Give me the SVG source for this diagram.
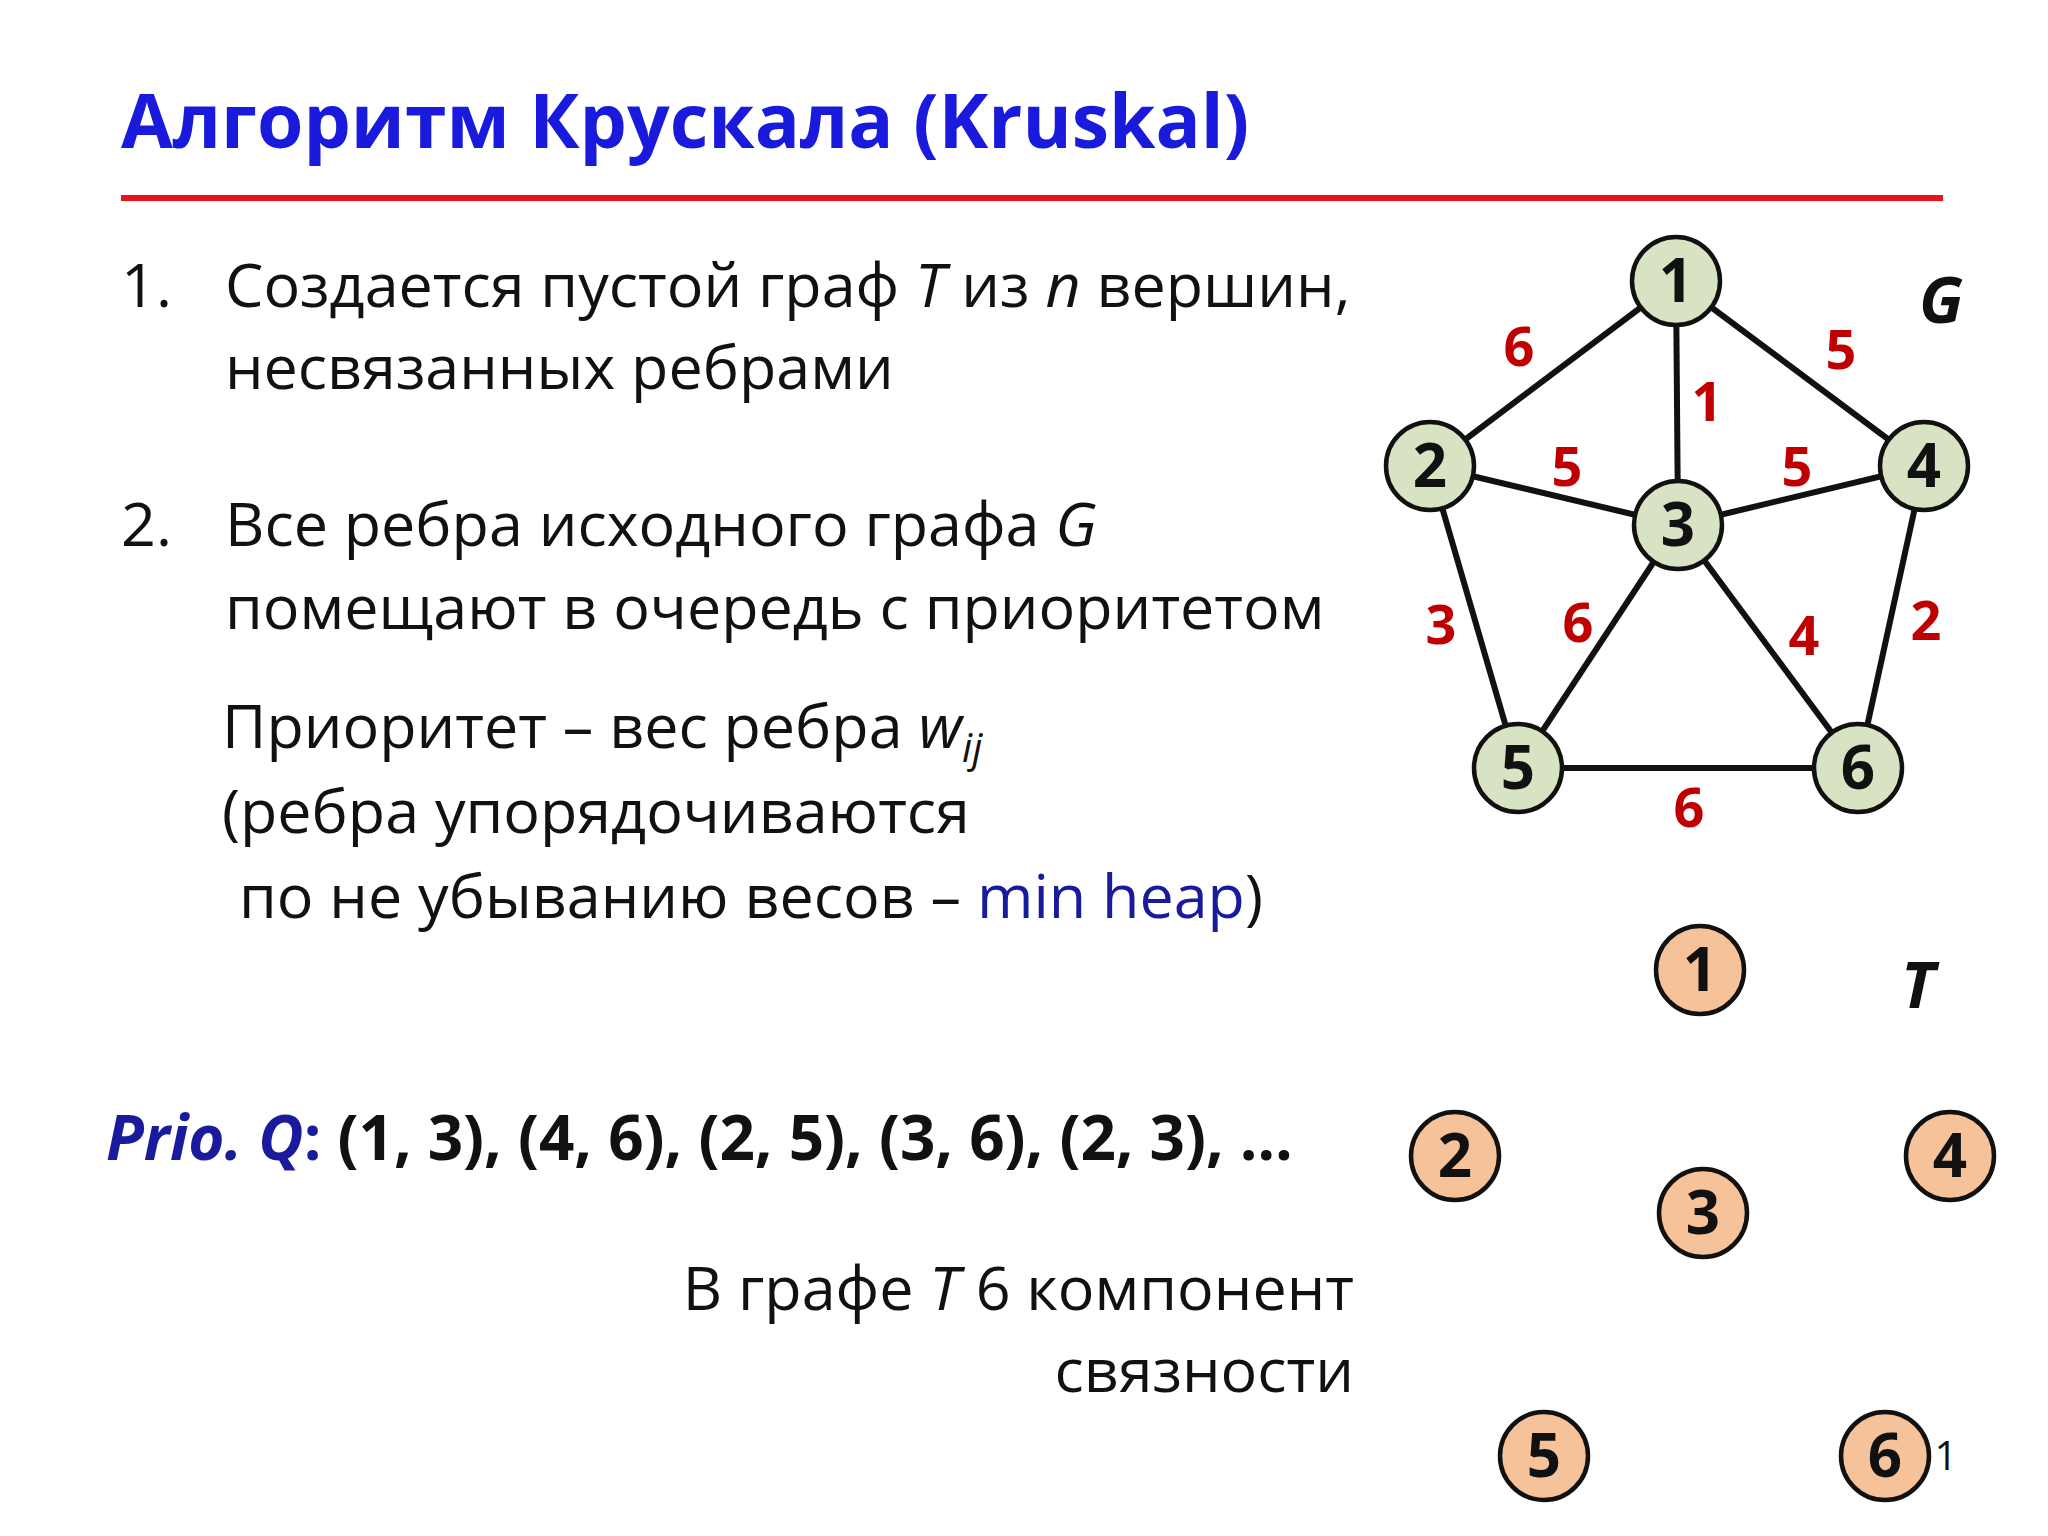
<svg xmlns="http://www.w3.org/2000/svg" width="2048" height="1536" viewBox="0 0 2048 1536">
<style>
text{font-family:"Open Sans","Liberation Sans",sans-serif}
.b{font-size:61px;fill:#111}
.n circle{stroke:#111;stroke-width:4.5}
.g circle{fill:#d8e3c3}
.t circle{fill:#f6c29a}
.n text{font-size:60px;font-weight:bold;text-anchor:middle;fill:#111}
.w{font-size:54px;font-weight:bold;fill:#c00000;text-anchor:middle}
#edges line{stroke:#111;stroke-width:6}
</style>
<rect width="2048" height="1536" fill="#fff"/>
<text x="121" y="148" font-size="75" font-weight="bold" fill="#1a1adc">Алгоритм Крускала (Kruskal)</text>
<line x1="121" y1="198" x2="1943" y2="198" stroke="#e8141c" stroke-width="6"/>
<text class="b" x="121" y="307">1.</text>
<text class="b" x="225" y="307">Создается пустой граф <tspan font-style="italic">T</tspan> из <tspan font-style="italic">n</tspan> вершин,</text>
<text class="b" x="225" y="389">несвязанных ребрами</text>
<text class="b" x="121" y="546">2.</text>
<text class="b" x="225" y="546">Все ребра исходного графа <tspan font-style="italic">G</tspan></text>
<text class="b" x="225" y="629">помещают в очередь с приоритетом</text>
<text class="b" x="222" y="748">Приоритет – вес ребра <tspan font-style="italic">w</tspan><tspan font-style="italic" font-size="40" dy="14">ij</tspan></text>
<text class="b" x="222" y="833">(ребра упорядочиваются</text>
<text class="b" x="239" y="918">по не убыванию весов – <tspan fill="#1a1a9c">min heap</tspan>)</text>
<text x="106" y="1160" font-size="62" font-weight="bold" fill="#111"><tspan fill="#1a1a9c" font-style="italic">Prio. Q</tspan><tspan fill="#1a1a9c">:</tspan> (1, 3), (4, 6), (2, 5), (3, 6), (2, 3), …</text>
<text class="b" x="1354" y="1310" text-anchor="end">В графе <tspan font-style="italic">T</tspan> 6 компонент</text>
<text class="b" x="1354" y="1392" text-anchor="end">связности</text>
<text x="1941" y="323" font-size="64" font-weight="bold" font-style="italic" text-anchor="middle" fill="#111">G</text>
<text x="1918" y="1008" font-size="64" font-weight="bold" font-style="italic" text-anchor="middle" fill="#111">T</text>
<text x="1946" y="1470" font-size="40" text-anchor="middle" fill="#111">1</text>
<g id="edges">
<line x1="1676" y1="281" x2="1430" y2="466"/>
<line x1="1676" y1="281" x2="1924" y2="466"/>
<line x1="1676" y1="281" x2="1678" y2="525"/>
<line x1="1430" y1="466" x2="1678" y2="525"/>
<line x1="1924" y1="466" x2="1678" y2="525"/>
<line x1="1430" y1="466" x2="1518" y2="768"/>
<line x1="1678" y1="525" x2="1518" y2="768"/>
<line x1="1678" y1="525" x2="1858" y2="768"/>
<line x1="1924" y1="466" x2="1858" y2="768"/>
<line x1="1518" y1="768" x2="1858" y2="768"/>
<text class="w" x="1519" y="366">6</text>
<text class="w" x="1841" y="369">5</text>
<text class="w" x="1707" y="421">1</text>
<text class="w" x="1567" y="486">5</text>
<text class="w" x="1797" y="486">5</text>
<text class="w" x="1441" y="644">3</text>
<text class="w" x="1578" y="642">6</text>
<text class="w" x="1804" y="655">4</text>
<text class="w" x="1926" y="640">2</text>
<text class="w" x="1689" y="827">6</text>
</g>
<g id="g1" class="n g"><circle cx="1676" cy="281" r="44"/><text x="1676" y="302">1</text></g>
<g id="g2" class="n g"><circle cx="1430" cy="466" r="44"/><text x="1430" y="487">2</text></g>
<g id="g3" class="n g"><circle cx="1678" cy="525" r="44"/><text x="1678" y="546">3</text></g>
<g id="g4" class="n g"><circle cx="1924" cy="466" r="44"/><text x="1924" y="487">4</text></g>
<g id="g5" class="n g"><circle cx="1518" cy="768" r="44"/><text x="1518" y="789">5</text></g>
<g id="g6" class="n g"><circle cx="1858" cy="768" r="44"/><text x="1858" y="789">6</text></g>
<g id="t1" class="n t"><circle cx="1700" cy="970" r="44"/><text x="1700" y="991">1</text></g>
<g id="t2" class="n t"><circle cx="1455" cy="1156" r="44"/><text x="1455" y="1177">2</text></g>
<g id="t3" class="n t"><circle cx="1703" cy="1213" r="44"/><text x="1703" y="1234">3</text></g>
<g id="t4" class="n t"><circle cx="1950" cy="1156" r="44"/><text x="1950" y="1177">4</text></g>
<g id="t5" class="n t"><circle cx="1544" cy="1456" r="44"/><text x="1544" y="1477">5</text></g>
<g id="t6" class="n t"><circle cx="1885" cy="1456" r="44"/><text x="1885" y="1477">6</text></g>
</svg>
